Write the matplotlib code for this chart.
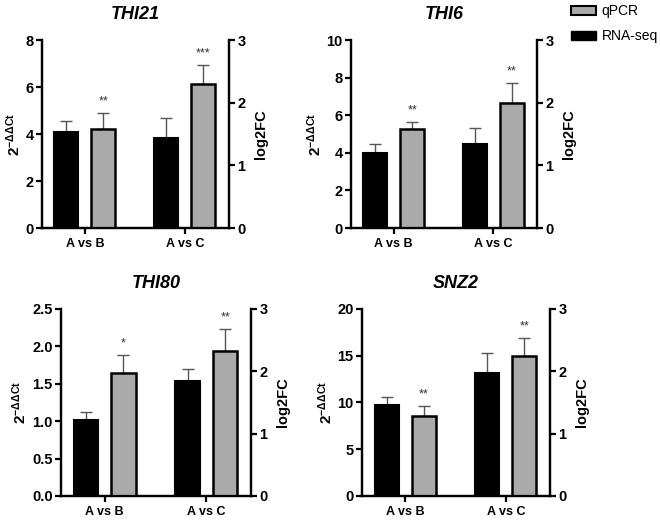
import matplotlib
matplotlib.use("Agg")
import matplotlib.pyplot as plt
from matplotlib.patches import Patch
import numpy as np

plt.rcParams['font.family'] = ['Liberation Sans', 'DejaVu Sans']
plt.rcParams['mathtext.fontset'] = 'custom'
plt.rcParams['mathtext.rm'] = 'Liberation Sans'
plt.rcParams['mathtext.bf'] = 'Liberation Sans:bold'

comparisons = ['A vs B', 'A vs C']
genes = ['THI21', 'THI6', 'THI80', 'SNZ2']

# qPCR (2^-ddCt, left axis)
qpcr_thi21 = [4.20, 6.12]
qpcr_thi6 = [5.27, 6.67]
qpcr_thi80 = [1.64, 1.94]
qpcr_snz2 = [8.60, 14.92]
qpcr_sd_thi21 = [0.68, 0.82]
qpcr_sd_thi6 = [0.38, 1.05]
qpcr_sd_thi80 = [0.25, 0.29]
qpcr_sd_snz2 = [1.04, 1.93]

# RNA-seq (log2FC, right axis)
rnaseq_thi21 = [1.53, 1.44]
rnaseq_thi6 = [1.20, 1.335]
rnaseq_thi80 = [1.22, 1.85]
rnaseq_snz2 = [1.46, 1.98]
rnaseq_sd_thi21 = [0.18, 0.31]
rnaseq_sd_thi6 = [0.14, 0.255]
rnaseq_sd_thi80 = [0.135, 0.18]
rnaseq_sd_snz2 = [0.12, 0.31]

stars_thi21 = ['**', '***']
stars_thi6 = ['**', '**']
stars_thi80 = ['*', '**']
stars_snz2 = ['**', '**']

left_max = [8, 10, 2.5, 20]
left_ticks = [[0, 2, 4, 6, 8], [0, 2, 4, 6, 8, 10],
              [0, 0.5, 1.0, 1.5, 2.0, 2.5], [0, 5, 10, 15, 20]]

qpcr = [qpcr_thi21, qpcr_thi6, qpcr_thi80, qpcr_snz2]
qpcr_sd = [qpcr_sd_thi21, qpcr_sd_thi6, qpcr_sd_thi80, qpcr_sd_snz2]
rnaseq = [rnaseq_thi21, rnaseq_thi6, rnaseq_thi80, rnaseq_snz2]
rnaseq_sd = [rnaseq_sd_thi21, rnaseq_sd_thi6, rnaseq_sd_thi80, rnaseq_sd_snz2]
stars = [stars_thi21, stars_thi6, stars_thi80, stars_snz2]

positions = [[0.0636, 0.5615, 0.2833, 0.3615],
             [0.5318, 0.5615, 0.2818, 0.3615],
             [0.0924, 0.0462, 0.2880, 0.3596],
             [0.5485, 0.0462, 0.2848, 0.3596]]

GRAY = '#aaaaaa'
ERR = '#555555'
W = 0.24
OFF = 0.185

fig = plt.figure(figsize=(6.6, 5.2), dpi=100)


def style_axis(a):
    a.tick_params(axis='y', labelsize=10.5, width=1.6, length=4, pad=2)
    a.tick_params(axis='x', labelsize=9, width=1.6, length=4, pad=3)
    for lab in a.get_yticklabels() + a.get_xticklabels():
        lab.set_fontweight('bold')


for i, gene in enumerate(genes):
    ax = fig.add_axes(positions[i])
    ax2 = ax.twinx()
    x = np.arange(len(comparisons))

    # RNA-seq on right axis (black)
    ax2.bar(x - OFF, rnaseq[i], W, color='black', edgecolor='black', linewidth=1.5, zorder=3)
    ax2.errorbar(x - OFF, rnaseq[i], yerr=[np.zeros(2), rnaseq_sd[i]], fmt='none',
                 ecolor=ERR, elinewidth=1, capsize=4, capthick=1, zorder=2)

    # qPCR on left axis (gray)
    ax.bar(x + OFF, qpcr[i], W, color=GRAY, edgecolor='black', linewidth=1.8, zorder=3)
    ax.errorbar(x + OFF, qpcr[i], yerr=[np.zeros(2), qpcr_sd[i]], fmt='none',
                ecolor=ERR, elinewidth=1, capsize=4, capthick=1, zorder=2)
    for xi, v, s, st in zip(x + OFF, qpcr[i], qpcr_sd[i], stars[i]):
        ax.annotate(st, (xi, v + s), xytext=(0, 4), textcoords='offset points',
                    ha='center', va='bottom', fontsize=9, color='#333333')

    ax.set_xlim(-0.43, 1.44)
    ax.set_ylim(0, left_max[i])
    ax.set_yticks(left_ticks[i])
    if i == 2:
        ax.set_yticklabels(['%.1f' % t for t in left_ticks[i]])
    ax2.set_ylim(0, 3)
    ax2.set_yticks([0, 1, 2, 3])
    ax.set_xticks(x)
    ax.set_xticklabels(comparisons)

    for a in (ax, ax2):
        a.spines['top'].set_visible(False)
        for sp in ('left', 'right', 'bottom'):
            a.spines[sp].set_linewidth(1.6)
        style_axis(a)

    ax.set_ylabel(r'$\mathbf{2^{-ΔΔCt}}$', fontsize=11, labelpad=2)
    ax2.set_ylabel('log2FC', fontsize=10.5, fontweight='bold', labelpad=6)
    ax.set_title(gene, fontsize=13, fontweight='bold', fontstyle='italic', pad=15)

handles = [Patch(facecolor=GRAY, edgecolor='black', linewidth=1.5, label='qPCR'),
           Patch(facecolor='black', edgecolor='black', label='RNA-seq')]
fig.legend(handles=handles, loc='upper left', bbox_to_anchor=(0.855, 1.005),
           frameon=False, fontsize=10, handlelength=1.8, handleheight=0.7,
           handletextpad=0.4, labelspacing=0.8, borderpad=0)

fig.savefig('out.png', dpi=100)
